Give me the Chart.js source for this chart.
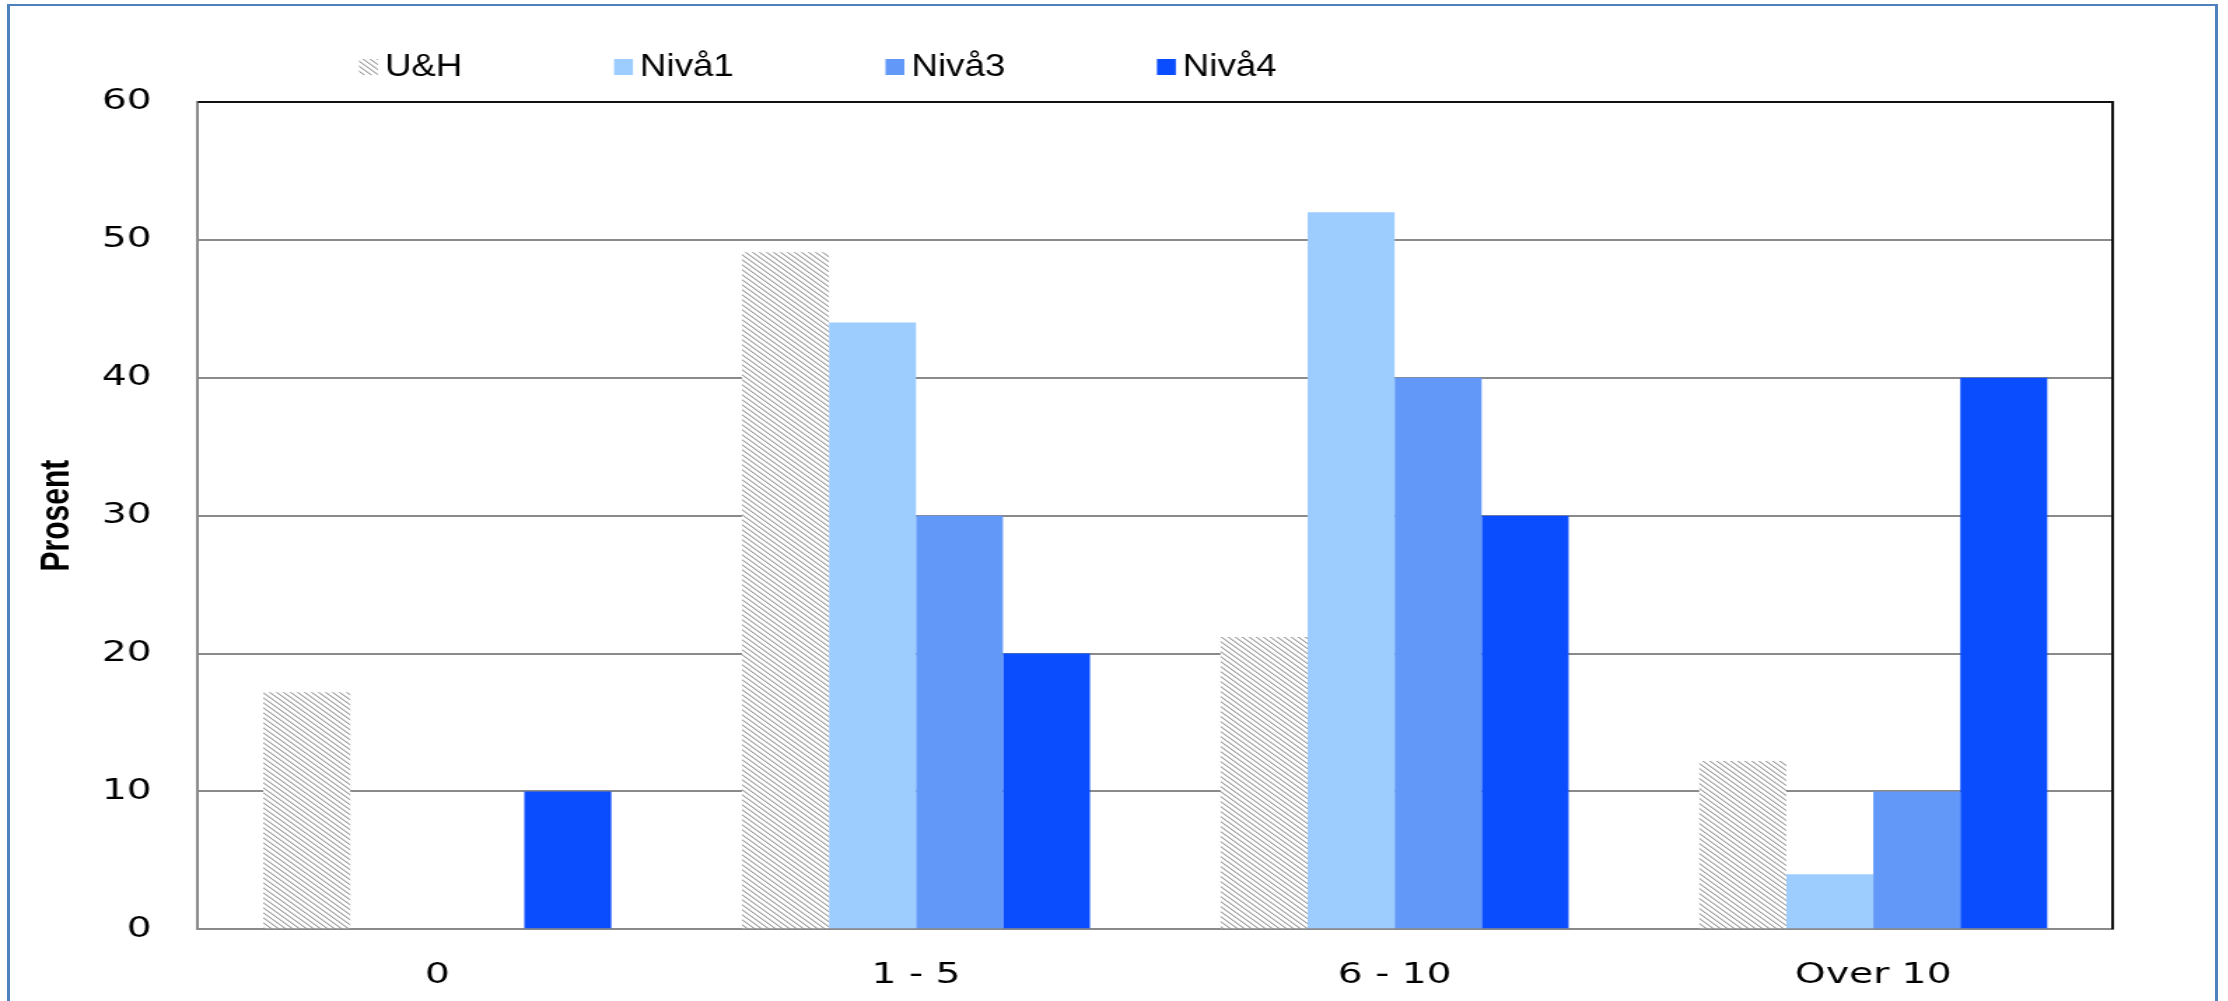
<!DOCTYPE html>
<html>
<head>
<meta charset="utf-8">
<script src="https://cdn.jsdelivr.net/npm/chart.js@4/dist/chart.umd.min.js"></script>
<style>
  html, body { margin: 0; padding: 0; background: #fff; overflow: hidden; }
  #frame {
    position: absolute; left: 7px; top: 4px; width: 2211px; height: 1020px;
    border-left: 3px solid #4F81BD; border-right: 3px solid #4F81BD; border-top: 2px solid #4F81BD;
    box-sizing: border-box;
  }
  /* the chart is laid out on a narrower canvas and widened to the page */
  #wrap {
    position: absolute; left: 0; top: 0; width: 1591px; height: 1001px;
    transform: scaleX(1.4); transform-origin: 0 0;
  }
</style>
</head>
<body>
<div id="frame"></div>
<div id="wrap"><canvas id="chart" width="1591" height="1001"></canvas></div>
<script>
// Years of experience groups and the share (percent) in each level
const categories = ['0', '1 - 5', '6 - 10', 'Over 10'];
const seriesNames = ['U&H', 'Nivå1', 'Nivå3', 'Nivå4'];
const uh    = [17.2, 49.1, 21.2, 12.2];
const niva1 = [0, 44, 52, 4];
const niva3 = [0, 30, 40, 10];
const niva4 = [10, 20, 30, 40];
const yTicks = [0, 10, 20, 30, 40, 50, 60];

// Diagonal hatch fill used for the U&H series
function makeHatch() {
  const c = document.createElement('canvas');
  c.width = 5; c.height = 5;
  const g = c.getContext('2d');
  g.fillStyle = '#ffffff';
  g.fillRect(0, 0, 5, 5);
  g.fillStyle = '#a2a2a2';
  for (let i = 0; i < 5; i++) g.fillRect(i, i, 1, 1);
  g.fillStyle = '#d4d4d4';
  for (let i = 0; i < 5; i++) g.fillRect((i + 1) % 5, i, 1, 1);
  return g.createPattern(c, 'repeat');
}
const hatch = makeHatch();

// Legend drawn as a single row above the plot, in a narrow type
const rowLegend = {
  id: 'rowLegend',
  afterDraw(chart, args, opts) {
    const ctx = chart.ctx;
    ctx.save();
    ctx.font = opts.font;
    ctx.textBaseline = 'middle';
    ctx.textAlign = 'left';
    let x = opts.x;
    chart.data.datasets.forEach(ds => {
      ctx.fillStyle = ds.backgroundColor;
      ctx.fillRect(x, opts.y - opts.boxH / 2, opts.boxW, opts.boxH);
      const tx = x + opts.boxW + opts.gap;
      ctx.save();
      ctx.translate(tx, opts.y);
      ctx.scale(opts.squeeze, 1);
      ctx.fillStyle = opts.color;
      ctx.fillText(ds.label, 0, 0);
      ctx.restore();
      x = tx + ctx.measureText(ds.label).width * opts.squeeze + opts.padding;
    });
    ctx.restore();
  }
};

// Dark frame on the top and right edges of the plot area
const plotFrame = {
  id: 'plotFrame',
  afterDatasetsDraw(chart) {
    const {ctx, chartArea: a} = chart;
    ctx.save();
    ctx.strokeStyle = '#111';
    ctx.lineWidth = 2;
    ctx.beginPath();
    ctx.moveTo(a.left, a.top);
    ctx.lineTo(a.right, a.top);
    ctx.lineTo(a.right, a.bottom);
    ctx.stroke();
    ctx.restore();
  }
};

const tickFont = { family: "'DejaVu Sans', Verdana, sans-serif", size: 28 };

new Chart(document.getElementById('chart'), {
  type: 'bar',
  data: {
    labels: categories,
    datasets: [
      { label: seriesNames[0], data: uh,    backgroundColor: hatch },
      { label: seriesNames[1], data: niva1, backgroundColor: '#9DCCFF' },
      { label: seriesNames[2], data: niva3, backgroundColor: '#6298F8' },
      { label: seriesNames[3], data: niva4, backgroundColor: '#0A4DFF' }
    ]
  },
  plugins: [rowLegend, plotFrame],
  options: {
    responsive: false,
    animation: false,
    layout: { padding: { top: 102, right: 82, bottom: 0, left: 10 } },
    datasets: { bar: { categoryPercentage: 0.727, barPercentage: 1.0, borderWidth: 0 } },
    plugins: {
      legend: { display: false },
      tooltip: { enabled: false },
      rowLegend: {
        x: 256.4, y: 67, boxW: 13.5, boxH: 16, gap: 5, padding: 108.3, squeeze: 0.82,
        font: "32px 'Liberation Sans', Arial, sans-serif",
        color: '#000'
      }
    },
    scales: {
      x: {
        afterFit(scale) { scale.height = 71.7; },
        grid: { display: false, drawTicks: false },
        border: { display: true, color: '#8a8a8a', width: 2 },
        ticks: { font: tickFont, color: '#000', padding: 30 }
      },
      y: {
        min: 0, max: 60,
        afterBuildTicks(scale) { scale.ticks = yTicks.map(v => ({ value: v })); },
        afterFit(scale) { scale.width = 131.4; },
        grid: { color: '#8a8a8a', lineWidth: 2, drawTicks: false },
        border: { display: true, color: '#8a8a8a', width: 2 },
        ticks: { font: tickFont, color: '#000', padding: 33 },
        title: {
          display: true, text: 'Prosent', color: '#000',
          font: { family: "'Liberation Sans', Arial, sans-serif", size: 30, weight: 'bold' },
          padding: { top: 13, bottom: 0 }
        }
      }
    }
  }
});
</script>
</body>
</html>
